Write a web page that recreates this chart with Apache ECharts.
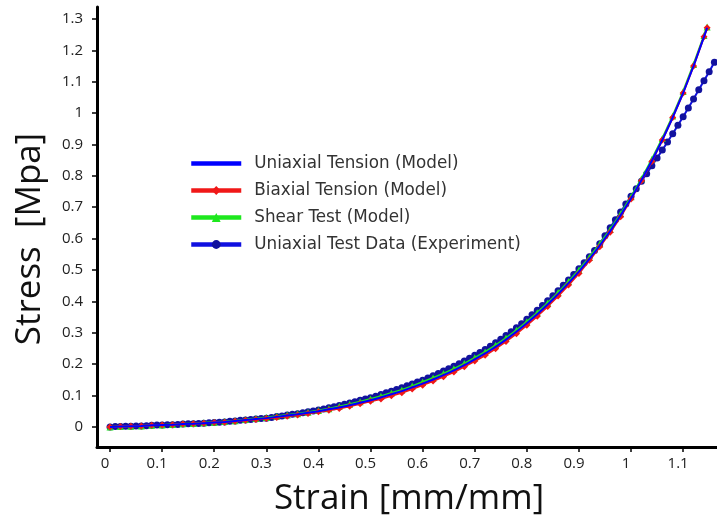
<!DOCTYPE html>
<html>
<head>
<meta charset="utf-8">
<script src="https://cdn.jsdelivr.net/npm/echarts@6/dist/echarts.min.js"></script>
<style>
  html, body { margin: 0; padding: 0; background: #ffffff; }
  #chart { width: 717px; height: 523px; }
</style>
</head>
<body>
<div id="chart"></div>
<script>
// Strain values shared by the three hyperelastic model curves
const modelStrain = [
  0, 0.02, 0.04, 0.06, 0.08, 0.10, 0.12, 0.14, 0.16, 0.18,
  0.20, 0.22, 0.24, 0.26, 0.28, 0.30, 0.32, 0.34, 0.36, 0.38,
  0.40, 0.42, 0.44, 0.46, 0.48, 0.50, 0.52, 0.54, 0.56, 0.58,
  0.60, 0.62, 0.64, 0.66, 0.68, 0.70, 0.72, 0.74, 0.76, 0.78,
  0.80, 0.82, 0.84, 0.86, 0.88, 0.90, 0.92, 0.94, 0.96, 0.98,
  1.00, 1.02, 1.04, 1.06, 1.08, 1.10, 1.12, 1.14, 1.146
];

const uniaxialModel = [
  0, 0.001, 0.002, 0.003, 0.005, 0.006, 0.007, 0.009, 0.010, 0.012,
  0.014, 0.016, 0.019, 0.022, 0.025, 0.028, 0.032, 0.036, 0.040, 0.045,
  0.050, 0.056, 0.062, 0.069, 0.077, 0.085, 0.094, 0.104, 0.114, 0.126,
  0.138, 0.151, 0.165, 0.180, 0.197, 0.215, 0.234, 0.255, 0.278, 0.303,
  0.330, 0.359, 0.390, 0.423, 0.458, 0.495, 0.535, 0.578, 0.624, 0.674,
  0.728, 0.786, 0.848, 0.914, 0.986, 1.064, 1.150, 1.243, 1.272
];

const biaxialModel = [
  0, 0.001, 0.002, 0.003, 0.005, 0.006, 0.007, 0.009, 0.010, 0.012,
  0.014, 0.015, 0.018, 0.021, 0.024, 0.027, 0.030, 0.034, 0.038, 0.043,
  0.048, 0.053, 0.059, 0.066, 0.074, 0.082, 0.089, 0.099, 0.109, 0.121,
  0.133, 0.146, 0.160, 0.175, 0.192, 0.210, 0.228, 0.249, 0.272, 0.297,
  0.324, 0.353, 0.384, 0.417, 0.452, 0.489, 0.531, 0.574, 0.620, 0.670,
  0.726, 0.784, 0.846, 0.914, 0.986, 1.064, 1.150, 1.243, 1.272
];

const shearModel = [
  0, 0.001, 0.002, 0.003, 0.005, 0.006, 0.008, 0.010, 0.011, 0.013,
  0.015, 0.017, 0.020, 0.024, 0.027, 0.030, 0.034, 0.038, 0.042, 0.047,
  0.052, 0.058, 0.065, 0.072, 0.080, 0.089, 0.098, 0.108, 0.118, 0.130,
  0.143, 0.156, 0.170, 0.185, 0.202, 0.220, 0.239, 0.260, 0.283, 0.308,
  0.335, 0.364, 0.395, 0.428, 0.463, 0.500, 0.540, 0.583, 0.629, 0.679,
  0.733, 0.791, 0.853, 0.919, 0.991, 1.069, 1.155, 1.247, 1.274
];

// Measured uniaxial test data
const expStrain = [
  0.00, 0.01, 0.02, 0.03, 0.04, 0.05, 0.06, 0.07, 0.08, 0.09,
  0.10, 0.11, 0.12, 0.13, 0.14, 0.15, 0.16, 0.17, 0.18, 0.19,
  0.20, 0.21, 0.22, 0.23, 0.24, 0.25, 0.26, 0.27, 0.28, 0.29,
  0.30, 0.31, 0.32, 0.33, 0.34, 0.35, 0.36, 0.37, 0.38, 0.39,
  0.40, 0.41, 0.42, 0.43, 0.44, 0.45, 0.46, 0.47, 0.48, 0.49,
  0.50, 0.51, 0.52, 0.53, 0.54, 0.55, 0.56, 0.57, 0.58, 0.59,
  0.60, 0.61, 0.62, 0.63, 0.64, 0.65, 0.66, 0.67, 0.68, 0.69,
  0.70, 0.71, 0.72, 0.73, 0.74, 0.75, 0.76, 0.77, 0.78, 0.79,
  0.80, 0.81, 0.82, 0.83, 0.84, 0.85, 0.86, 0.87, 0.88, 0.89,
  0.90, 0.91, 0.92, 0.93, 0.94, 0.95, 0.96, 0.97, 0.98, 0.99,
  1.00, 1.01, 1.02, 1.03, 1.04, 1.05, 1.06, 1.07, 1.08, 1.09,
  1.10, 1.11, 1.12, 1.13, 1.14, 1.15, 1.16
];

const expStress = [
  0, 0.001, 0.001, 0.002, 0.002, 0.003, 0.003, 0.004, 0.005, 0.006,
  0.006, 0.007, 0.007, 0.008, 0.009, 0.010, 0.010, 0.011, 0.012, 0.013,
  0.014, 0.015, 0.016, 0.018, 0.019, 0.021, 0.022, 0.024, 0.025, 0.027,
  0.028, 0.030, 0.033, 0.035, 0.038, 0.040, 0.042, 0.045, 0.048, 0.051,
  0.054, 0.057, 0.061, 0.064, 0.068, 0.072, 0.076, 0.080, 0.085, 0.089,
  0.093, 0.098, 0.103, 0.109, 0.114, 0.119, 0.125, 0.131, 0.137, 0.143,
  0.149, 0.156, 0.163, 0.170, 0.178, 0.185, 0.193, 0.201, 0.210, 0.219,
  0.228, 0.237, 0.247, 0.257, 0.268, 0.279, 0.291, 0.303, 0.316, 0.329,
  0.343, 0.357, 0.372, 0.387, 0.402, 0.418, 0.434, 0.451, 0.468, 0.486,
  0.504, 0.523, 0.542, 0.562, 0.584, 0.609, 0.635, 0.660, 0.685, 0.710,
  0.735, 0.759, 0.783, 0.807, 0.832, 0.857, 0.882, 0.908, 0.934, 0.961,
  0.988, 1.016, 1.045, 1.074, 1.103, 1.132, 1.162
];

const seriesNames = [
  'Uniaxial Tension (Model)',
  'Biaxial Tension (Model)',
  'Shear Test (Model)',
  'Uniaxial Test Data (Experiment)'
];

const xTicks = [0, 0.1, 0.2, 0.3, 0.4, 0.5, 0.6, 0.7, 0.8, 0.9, 1, 1.1];
const yTicks = [0, 0.1, 0.2, 0.3, 0.4, 0.5, 0.6, 0.7, 0.8, 0.9, 1, 1.1, 1.2, 1.3];

const xTitle = 'Strain [mm/mm]';
const yTitle = 'Stress  [Mpa]';

function pairs(xs, ys) {
  return xs.map((x, i) => [x, ys[i]]);
}

const chart = echarts.init(document.getElementById('chart'), null, { renderer: 'canvas' });

const tickFont = { fontFamily: 'Open Sans', fontSize: 15, color: '#222222' };

chart.setOption({
  backgroundColor: '#ffffff',
  animation: false,
  grid: { left: 97, right: 0, top: 7, bottom: 76, containLabel: false },
  legend: {
    orient: 'vertical',
    left: 184,
    top: 150,
    itemWidth: 50,
    itemHeight: 11,
    itemGap: 10,
    // the plain model line carries no marker in the key
    data: [
      { name: seriesNames[0], itemStyle: { opacity: 0 } },
      seriesNames[1],
      seriesNames[2],
      seriesNames[3]
    ],
    lineStyle: { width: 4.5 },
    textStyle: { fontFamily: 'DejaVu Sans', fontSize: 16.8, color: '#333333', padding: [0, 0, 0, 8] }
  },
  xAxis: {
    type: 'value',
    min: -0.025,
    max: 1.165,
    splitLine: { show: false },
    axisLine: { onZero: false, lineStyle: { color: '#000000', width: 3 } },
    axisTick: { show: true, length: 5, customValues: xTicks, lineStyle: { color: '#000000', width: 1.5 } },
    axisLabel: Object.assign({ margin: 9, customValues: xTicks, padding: [0, 10, 0, 0] }, tickFont)
  },
  yAxis: {
    type: 'value',
    min: -0.064,
    max: 1.338,
    splitLine: { show: false },
    axisLine: { onZero: false, lineStyle: { color: '#000000', width: 3 } },
    axisTick: { show: true, length: 5, customValues: yTicks, lineStyle: { color: '#000000', width: 1.5 } },
    axisLabel: Object.assign({ margin: 14, customValues: yTicks }, tickFont)
  },
  graphic: [
    {
      type: 'text',
      x: 409, y: 499,
      style: {
        text: xTitle,
        fontFamily: 'Open Sans', fontSize: 35, fill: '#111111',
        textAlign: 'center', textVerticalAlign: 'middle'
      }
    },
    {
      type: 'text',
      x: 30, y: 239,
      rotation: Math.PI / 2,
      style: {
        text: yTitle,
        fontFamily: 'Open Sans', fontSize: 35, fill: '#111111',
        textAlign: 'center', textVerticalAlign: 'middle'
      }
    }
  ],
  series: [
    {
      name: seriesNames[3],
      type: 'line',
      z: 2,
      data: pairs(expStrain, expStress),
      symbol: 'circle',
      symbolSize: 7,
      color: '#12129e',
      lineStyle: { width: 2, color: '#1010e0' },
      itemStyle: { color: '#12129e' }
    },
    {
      name: seriesNames[2],
      type: 'line',
      z: 3,
      data: pairs(modelStrain, shearModel),
      symbol: 'triangle',
      symbolSize: 7,
      color: '#1ee81e',
      lineStyle: { width: 2, color: '#1ee81e' },
      itemStyle: { color: '#1ee81e' }
    },
    {
      name: seriesNames[1],
      type: 'line',
      z: 4,
      data: pairs(modelStrain, biaxialModel),
      symbol: 'diamond',
      symbolSize: 7,
      color: '#f01818',
      lineStyle: { width: 2, color: '#f01818' },
      itemStyle: { color: '#f01818' }
    },
    {
      name: seriesNames[0],
      type: 'line',
      z: 5,
      data: pairs(modelStrain, uniaxialModel),
      symbol: 'none',
      color: '#0000ff',
      lineStyle: { width: 2, color: '#0000ff' }
    }
  ]
});
</script>
</body>
</html>
